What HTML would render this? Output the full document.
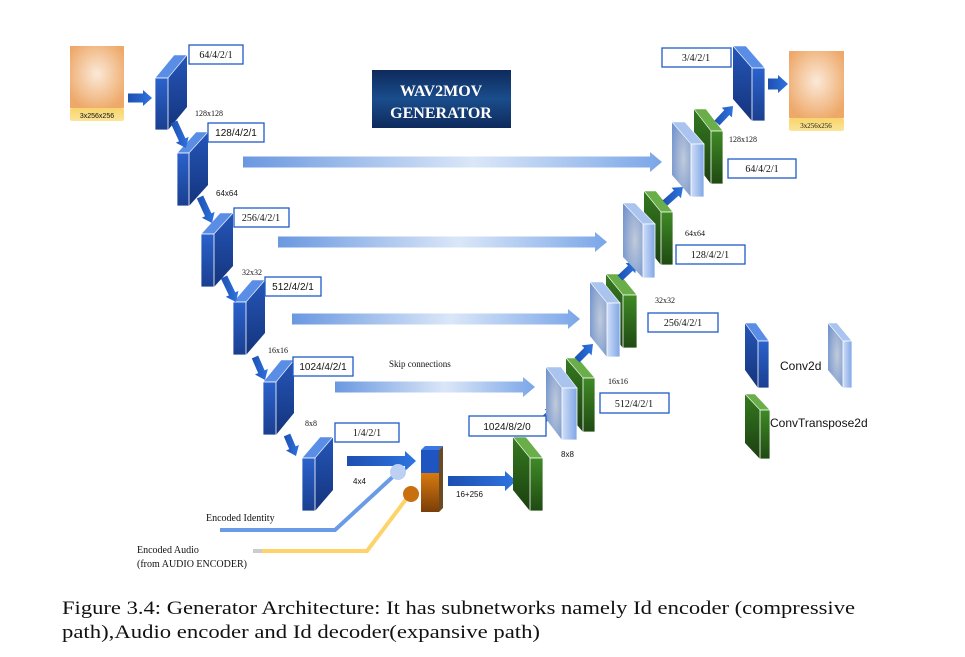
<!DOCTYPE html>
<html><head><meta charset="utf-8"><style>
html,body{margin:0;padding:0;background:#fff;}
svg{display:block;}
.s{font-family:"Liberation Serif",serif;fill:#111;}
.b{font-family:"Liberation Sans",sans-serif;fill:#111;}
</style></head><body>
<svg id="g" width="965" height="657" viewBox="0 0 965 657" xmlns="http://www.w3.org/2000/svg">
<defs>
<radialGradient id="org" cx="50%" cy="45%" r="60%"><stop offset="0" stop-color="#fbe9d8"/><stop offset="1" stop-color="#eea96a"/></radialGradient>
<linearGradient id="yel" x1="0" y1="0" x2="0" y2="1"><stop offset="0" stop-color="#f8d46a"/><stop offset="1" stop-color="#fbe49a"/></linearGradient>
<linearGradient id="navy" x1="0" y1="0" x2="0" y2="1"><stop offset="0" stop-color="#0e2a5c"/><stop offset="0.5" stop-color="#1a4d8c"/><stop offset="1" stop-color="#0e2a5c"/></linearGradient>
<linearGradient id="bf" x1="0" y1="0" x2="0" y2="1"><stop offset="0" stop-color="#2b62cc"/><stop offset="1" stop-color="#1a3f90"/></linearGradient>
<linearGradient id="bs" x1="0" y1="0" x2="0" y2="1"><stop offset="0" stop-color="#2556b8"/><stop offset="1" stop-color="#14347c"/></linearGradient>
<linearGradient id="gf" x1="0" y1="0" x2="0" y2="1"><stop offset="0" stop-color="#3f8a26"/><stop offset="1" stop-color="#1f4a12"/></linearGradient>
<linearGradient id="gs" x1="0" y1="0" x2="0" y2="1"><stop offset="0" stop-color="#357a20"/><stop offset="1" stop-color="#1b3f10"/></linearGradient>
<radialGradient id="ls" cx="60%" cy="50%" r="70%"><stop offset="0" stop-color="#c0cadb"/><stop offset="1" stop-color="#7394cc"/></radialGradient>
<linearGradient id="lf" x1="0" y1="0" x2="1" y2="0"><stop offset="0" stop-color="#d0def7"/><stop offset="1" stop-color="#7ea6e6"/></linearGradient>
<linearGradient id="skip" x1="0" y1="0" x2="1" y2="0"><stop offset="0" stop-color="#6a98e0"/><stop offset="0.55" stop-color="#dbe7f8"/><stop offset="1" stop-color="#7aa6e8"/></linearGradient>
<linearGradient id="arr" x1="0" y1="0" x2="1" y2="0"><stop offset="0" stop-color="#1d4fb0"/><stop offset="1" stop-color="#2e74e0"/></linearGradient>
<linearGradient id="ob" x1="0" y1="0" x2="0" y2="1"><stop offset="0" stop-color="#d97a10"/><stop offset="1" stop-color="#7a3e08"/></linearGradient>
</defs>

<rect x="70" y="46" width="54" height="62" fill="url(#org)"/>
<rect x="70" y="108" width="54" height="13" rx="2" fill="url(#yel)"/>
<text x="97" y="118" class="b" font-size="7" text-anchor="middle">3x256x256</text>
<rect x="789" y="51" width="55" height="67" fill="url(#org)"/>
<rect x="789" y="118" width="55" height="13" rx="2" fill="url(#yel)"/>
<text x="816" y="128" class="s" font-size="7" text-anchor="middle">3x256x256</text>

<rect x="372" y="70" width="139" height="58" fill="url(#navy)"/>
<text x="441" y="96" class="s" font-size="16" font-weight="bold" text-anchor="middle" style="fill:#fff">WAV2MOV</text>
<text x="441" y="118" class="s" font-size="16" font-weight="bold" text-anchor="middle" style="fill:#fff">GENERATOR</text>

<g id="shapes"></g>

<g fill="#fff" stroke="#1f5cc8" stroke-width="1.3">
<rect x="189" y="45" width="54" height="19"/>
<rect x="208" y="123" width="56" height="19"/>
<rect x="234" y="208" width="55" height="19"/>
<rect x="265" y="277" width="56" height="19"/>
<rect x="293" y="357" width="60" height="19"/>
<rect x="335" y="423" width="64" height="19"/>
<rect x="469" y="416" width="77" height="20"/>
<rect x="662" y="48" width="69" height="19"/>
<rect x="728" y="159" width="68" height="19"/>
<rect x="676" y="245" width="69" height="19"/>
<rect x="648" y="313" width="70" height="19"/>
<rect x="600" y="393" width="69" height="20"/>
</g>
<g class="s" font-size="10" text-anchor="middle">
<text x="216" y="58">64/4/2/1</text>
<text x="236" y="136" class="b">128/4/2/1</text>
<text x="261" y="221">256/4/2/1</text>
<text x="293" y="290" class="b">512/4/2/1</text>
<text x="323" y="370" class="b">1024/4/2/1</text>
<text x="367" y="436">1/4/2/1</text>
<text x="507" y="430" class="b">1024/8/2/0</text>
<text x="696" y="61">3/4/2/1</text>
<text x="762" y="172">64/4/2/1</text>
<text x="710" y="258">128/4/2/1</text>
<text x="683" y="326">256/4/2/1</text>
<text x="634" y="407">512/4/2/1</text>
</g>
<g class="s" font-size="8">
<text x="195" y="116">128x128</text>
<text x="216" y="196" class="b">64x64</text>
<text x="242" y="275">32x32</text>
<text x="268" y="353">16x16</text>
<text x="305" y="426">8x8</text>
<text x="353" y="484" class="b">4x4</text>
<text x="456" y="497" class="b">16+256</text>
<text x="561" y="457" class="b">8x8</text>
<text x="608" y="384">16x16</text>
<text x="655" y="303">32x32</text>
<text x="685" y="236">64x64</text>
<text x="729" y="142">128x128</text>
</g>
<text x="389" y="367" class="s" font-size="9">Skip connections</text>
<text x="206" y="521" class="s" font-size="10">Encoded Identity</text>
<text x="137" y="553" class="s" font-size="10">Encoded Audio</text>
<text x="137" y="567" class="s" font-size="10">(from AUDIO ENCODER)</text>
<text x="780" y="370" class="b" font-size="12">Conv2d</text>
<text x="770" y="427" class="b" font-size="12">ConvTranspose2d</text>

<text x="62" y="614" class="s" font-size="19" textLength="793" lengthAdjust="spacingAndGlyphs">Figure 3.4: Generator Architecture: It has subnetworks namely Id encoder (compressive</text>
<text x="62" y="638" class="s" font-size="19" textLength="478" lengthAdjust="spacingAndGlyphs">path),Audio encoder and Id decoder(expansive path)</text>
</svg>
<script>
var NS="http://www.w3.org/2000/svg",G=document.getElementById("shapes");
function el(t,a){var e=document.createElementNS(NS,t);for(var k in a)e.setAttribute(k,a[k]);G.appendChild(e);return e;}
function P(p){return p.map(function(q){return q[0]+","+q[1]}).join(" ");}
function enc(x,y,w,h,dx,dy){
 el("polygon",{points:P([[x+w,y],[x+w+dx,y-dy],[x+w+dx,y-dy+h],[x+w,y+h]]),fill:"url(#bs)"});
 el("polygon",{points:P([[x,y],[x+dx,y-dy],[x+w+dx,y-dy],[x+w,y]]),fill:"#5a8ee6",stroke:"#fff","stroke-width":0.6});
 el("rect",{x:x,y:y,width:w,height:h,fill:"url(#bf)",stroke:"#fff","stroke-width":0.8});
}
function dec(x,y,w,h,dx,dy,kind){
 var sf,ff,tf;
 if(kind=="g"){sf="url(#gs)";ff="url(#gf)";tf="#6aae4a";}
 else if(kind=="l"){sf="url(#ls)";ff="url(#lf)";tf="#a9c4ee";}
 else {sf="url(#bs)";ff="url(#bf)";tf="#5a8ee6";}
 el("polygon",{points:P([[x-dx,y-dy],[x,y],[x,y+h],[x-dx,y+h-dy]]),fill:sf});
 el("polygon",{points:P([[x-dx,y-dy],[x-dx+w,y-dy],[x+w,y],[x,y]]),fill:tf,stroke:"#fff","stroke-width":0.6});
 el("rect",{x:x,y:y,width:w,height:h,fill:ff,stroke:"#fff","stroke-width":0.8});
}
function arrow(x1,y1,x2,y2,w,hw,hl,fill){
 var dx=x2-x1,dy=y2-y1,L=Math.sqrt(dx*dx+dy*dy),ux=dx/L,uy=dy/L,nx=-uy,ny=ux;
 var bx=x2-ux*hl,by=y2-uy*hl;
 el("polygon",{points:P([[x1+nx*w/2,y1+ny*w/2],[bx+nx*w/2,by+ny*w/2],[bx+nx*hw/2,by+ny*hw/2],[x2,y2],[bx-nx*hw/2,by-ny*hw/2],[bx-nx*w/2,by-ny*w/2],[x1-nx*w/2,y1-ny*w/2]]),fill:fill||"url(#arr)"});
}
arrow(243,162,662,162,11,20,12,"url(#skip)");
arrow(278,242,607,242,11,20,12,"url(#skip)");
arrow(292,319,580,319,11,20,12,"url(#skip)");
arrow(335,387,535,387,11,20,12,"url(#skip)");
enc(155,78,13,52,19,23);
enc(177,153,12,53,19,21);
enc(201,234,13,53,19,21);
enc(233,302,13,53,19,22);
enc(263,382,13,53,18,22);
enc(302,458,13,53,18,21);
arrow(128,98,152,98,9,16,9);
arrow(174,122,186,148,7,14,9);
arrow(200,197,212,223,7,14,9);
arrow(224,277,236,302,7,14,9);
arrow(255,357,265,380,7,14,9);
arrow(287,435,296,456,7,14,9);
arrow(347,461,416,461,10,20,11);
arrow(448,481,516,481,10,20,11);
arrow(768,84,788,84,11,18,10);
el("rect",{x:421,y:450,width:18,height:23,fill:"#1f55c0"});
el("polygon",{points:P([[421,450],[425,446],[443,446],[439,450]]),fill:"#3d77e0"});
el("polygon",{points:P([[439,450],[443,446],[443,508],[439,512]]),fill:"#6a4a20"});
el("rect",{x:421,y:473,width:18,height:39,fill:"url(#ob)"});
el("polyline",{points:"220,530 335,530 398,472",fill:"none",stroke:"#6a9be6","stroke-width":4});
el("polyline",{points:"253,551 262,551",fill:"none",stroke:"#cccccc","stroke-width":4});
el("polyline",{points:"262,551 367,551 410,494",fill:"none",stroke:"#fdd36a","stroke-width":4});
el("circle",{cx:398,cy:472,r:8,fill:"#bcd0f3"});
el("circle",{cx:411,cy:494,r:8,fill:"#c86f10"});
dec(530,458,13,53,17,21,"g");
arrow(538,425,556,408,7,14,9);
dec(583,378,12,54,17,20,"g");
dec(562,388,15,52,16,21,"l");
arrow(577,360,593,344,7,14,9);
dec(623,295,14,53,17,21,"g");
dec(607,303,13,54,17,21,"l");
arrow(620,278,637,262,7,14,9);
dec(661,212,12,53,17,21,"g");
dec(643,224,12,54,20,21,"l");
arrow(665,203,683,187,7,14,9);
dec(711,131,12,53,17,22,"g");
dec(691,144,13,53,19,22,"l");
arrow(717,123,733,106,7,14,9);
dec(752,68,13,53,19,22,"b");
dec(758,341,11,47,13,18,"b");
dec(843,341,9,47,15,18,"l");
dec(760,410,10,49,15,16,"g");
</script>
</body></html>
